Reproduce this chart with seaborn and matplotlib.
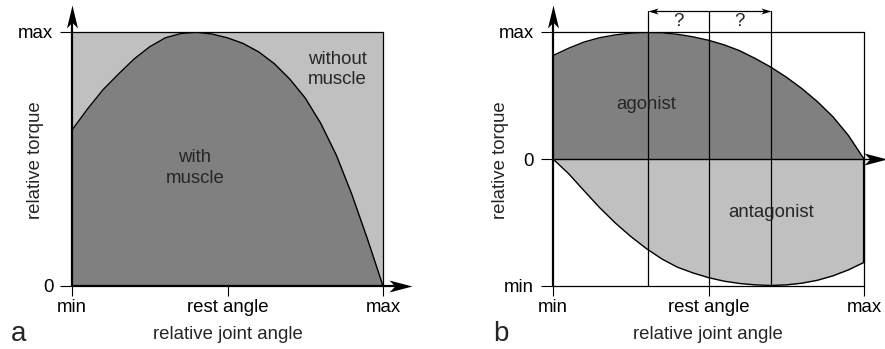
import numpy as np
import pandas as pd
import matplotlib
matplotlib.use("Agg")
import matplotlib.pyplot as plt
from matplotlib.path import Path
import seaborn as sns

# ---------------- data ----------------
# panel a: torque vs relative joint angle (0 = min, 1 = max)
angle_a = [0.0, 0.05, 0.10, 0.15, 0.20, 0.25, 0.30, 0.35, 0.40, 0.45, 0.50,
           0.55, 0.60, 0.65, 0.70, 0.75, 0.80, 0.85, 0.90, 0.95, 1.0]
torque_with_muscle = [0.614, 0.697, 0.773, 0.835, 0.894, 0.942, 0.977, 0.994, 0.999, 0.992, 0.977,
                      0.955, 0.922, 0.876, 0.815, 0.74, 0.64, 0.515, 0.36, 0.185, 0.0]

# panel b: agonist / antagonist torque
angle_b = [0.0, 0.05, 0.10, 0.15, 0.20, 0.25, 0.30, 0.35, 0.40, 0.45, 0.50,
           0.55, 0.60, 0.65, 0.70, 0.75, 0.80, 0.85, 0.90, 0.95, 1.0]
torque_agonist = [0.814, 0.872, 0.921, 0.955, 0.977, 0.991, 0.997, 0.994, 0.982, 0.962, 0.935,
                  0.899, 0.853, 0.792, 0.724, 0.645, 0.555, 0.452, 0.333, 0.185, 0.0]
torque_antagonist = [0.0, -0.115, -0.25, -0.383, -0.503, -0.61, -0.705, -0.787, -0.852, -0.897, -0.934,
                     -0.962, -0.98, -0.991, -0.996, -0.991, -0.978, -0.955, -0.92, -0.873, -0.814]

angle_ticks = [0.0, 0.5, 1.0]
angle_labels = ["min", "rest angle", "max"]
torque_ticks_a = [0.0, 1.0]
torque_labels_a = ["0", "max"]
torque_ticks_b = [-1.0, 0.0, 1.0]
torque_labels_b = ["min", "0", "max"]
uncertain_lines = [0.305, 0.5, 0.70]

DARK = "#808080"
LIGHT = "#c0c0c0"
FS = 13.4

sns.set_theme(style="white")
plt.rcParams["font.family"] = ["Liberation Sans", "DejaVu Sans"]

fig = plt.figure(figsize=(8.85, 3.49), dpi=100)
W, H = 885.0, 349.0


def px_axes(l, t, r, b):
    return fig.add_axes([l / W, 1 - b / H, (r - l) / W, (b - t) / H])


def head(ax, x, y, angle, L, Wd, notch=0.75):
    v = np.array([[0, 0], [-L, Wd / 2], [-notch * L, 0], [-L, -Wd / 2], [0, 0]], float)
    a = np.deg2rad(angle)
    R = np.array([[np.cos(a), -np.sin(a)], [np.sin(a), np.cos(a)]])
    v = v @ R.T
    p = Path(v, [Path.MOVETO, Path.LINETO, Path.LINETO, Path.LINETO, Path.CLOSEPOLY])
    ax.plot([x], [y], marker=p, ms=1.44 * L, color="black", mew=0, clip_on=False, zorder=6)


def style_axes(ax):
    for s in ax.spines.values():
        s.set_visible(False)
    ax.set_facecolor("none")
    ax.tick_params(axis="x", length=7.5, width=0.8, direction="out", pad=1.5,
                   labelsize=FS, colors="black", bottom=True)
    ax.tick_params(axis="y", length=8.5, width=0.8, direction="out", pad=5,
                   labelsize=FS, colors="black", left=True)
    ax.set_xlabel("")
    ax.set_ylabel("")


# ---------------- panel a ----------------
axa = px_axes(72, 32, 383, 286)
axa.set_xlim(0, 1)
axa.set_ylim(0, 1)
axa.fill_between([0, 1], [0, 0], [1, 1], color=LIGHT, lw=0, zorder=1)
axa.fill_between(angle_a, 0, torque_with_muscle, color=DARK, lw=0, zorder=2)
sns.lineplot(x=angle_a, y=torque_with_muscle, ax=axa, color="black", lw=1.0,
             sort=False, zorder=3)
axa.plot([0, 1], [1, 1], color="black", lw=0.9, zorder=4, clip_on=False)
axa.plot([1, 1], [0, 1], color="black", lw=0.9, zorder=4, clip_on=False)
# axes with arrows
ya_tip = (286 - 5) / 254.0
xa_tip = (412 - 72) / 311.0
axa.plot([0, 0], [0, ya_tip - 0.04], color="black", lw=1.6, zorder=5, clip_on=False)
axa.plot([0, xa_tip - 0.03], [0, 0], color="black", lw=1.6, zorder=5, clip_on=False)
head(axa, 0, ya_tip, 90, 23, 11)
head(axa, xa_tip, 0, 0, 23, 12)
style_axes(axa)
axa.set_xticks(angle_ticks, angle_labels)
axa.set_yticks(torque_ticks_a, torque_labels_a)
axa.text(0.395, 0.465, "with\nmuscle", ha="center", va="center", fontsize=FS,
         linespacing=1.25, zorder=6)
axa.text(0.852, 0.852, "without\nmuscle", ha="center", va="center", fontsize=FS,
         linespacing=1.25, zorder=6)

# ---------------- panel b ----------------
axb = px_axes(553, 32, 864, 286)
axb.set_xlim(0, 1)
axb.set_ylim(-1, 1)
axb.fill_between(angle_b, 0, torque_agonist, color=DARK, lw=0, zorder=1)
axb.fill_between(angle_b, torque_antagonist, 0, color=LIGHT, lw=0, zorder=1)
sns.lineplot(x=angle_b, y=torque_agonist, ax=axb, color="black", lw=1.0, sort=False, zorder=3)
sns.lineplot(x=angle_b, y=torque_antagonist, ax=axb, color="black", lw=1.0, sort=False, zorder=3)
# box
axb.plot([0, 1], [1, 1], color="black", lw=0.9, zorder=4, clip_on=False)
axb.plot([0, 1], [-1, -1], color="black", lw=0.9, zorder=4, clip_on=False)
axb.plot([1, 1], [-1, 1], color="black", lw=0.9, zorder=4, clip_on=False)
axb.plot([1, 1], [torque_antagonist[-1], 0], color="black", lw=1.6, zorder=4, clip_on=False)
# vertical guide lines
arrow_y = (159 - 11) / 127.0
for xv in uncertain_lines:
    axb.plot([xv, xv], [-1, arrow_y], color="black", lw=0.9, zorder=4, clip_on=False)
axb.plot([uncertain_lines[0] + 0.01, uncertain_lines[2] - 0.01], [arrow_y, arrow_y],
         color="black", lw=0.9, zorder=4, clip_on=False)
head(axb, uncertain_lines[0], arrow_y, 180, 10, 6)
head(axb, uncertain_lines[2], arrow_y, 0, 10, 6)
axb.text((uncertain_lines[0] + uncertain_lines[1]) / 2, 1.08, "?", ha="center", va="center",
         fontsize=FS, zorder=6)
axb.text((uncertain_lines[1] + uncertain_lines[2]) / 2, 1.08, "?", ha="center", va="center",
         fontsize=FS, zorder=6)
# axes with arrows
yb_tip = (159 - 5) / 127.0
xb_tip = (887 - 553) / 311.0
axb.plot([0, 0], [-1, yb_tip - 0.08], color="black", lw=1.6, zorder=5, clip_on=False)
axb.plot([0, xb_tip - 0.03], [0, 0], color="black", lw=1.0, zorder=5, clip_on=False)
head(axb, 0, yb_tip, 90, 23, 11)
head(axb, xb_tip, 0, 0, 23, 12)
style_axes(axb)
axb.set_xticks(angle_ticks, angle_labels)
axb.set_yticks(torque_ticks_b, torque_labels_b)
axb.text(0.301, 0.433, "agonist", ha="center", va="center", fontsize=FS, zorder=6)
axb.text(0.700, -0.423, "antagonist", ha="center", va="center", fontsize=FS, zorder=6)

# ---------------- labels ----------------
for cx, letter, lx in [(228, "a", 11), (708, "b", 493)]:
    fig.text(cx / W, 1 - 339 / H, "relative joint angle", ha="center", va="baseline", fontsize=FS)
    fig.text(lx / W, 1 - 341 / H, letter, ha="left", va="baseline", fontsize=20)
for cx in (35, 501):
    fig.text(cx / W, 1 - 160 / H, "relative torque", ha="center", va="center",
             rotation=90, fontsize=FS)

fig.savefig("out.png", dpi=100)
